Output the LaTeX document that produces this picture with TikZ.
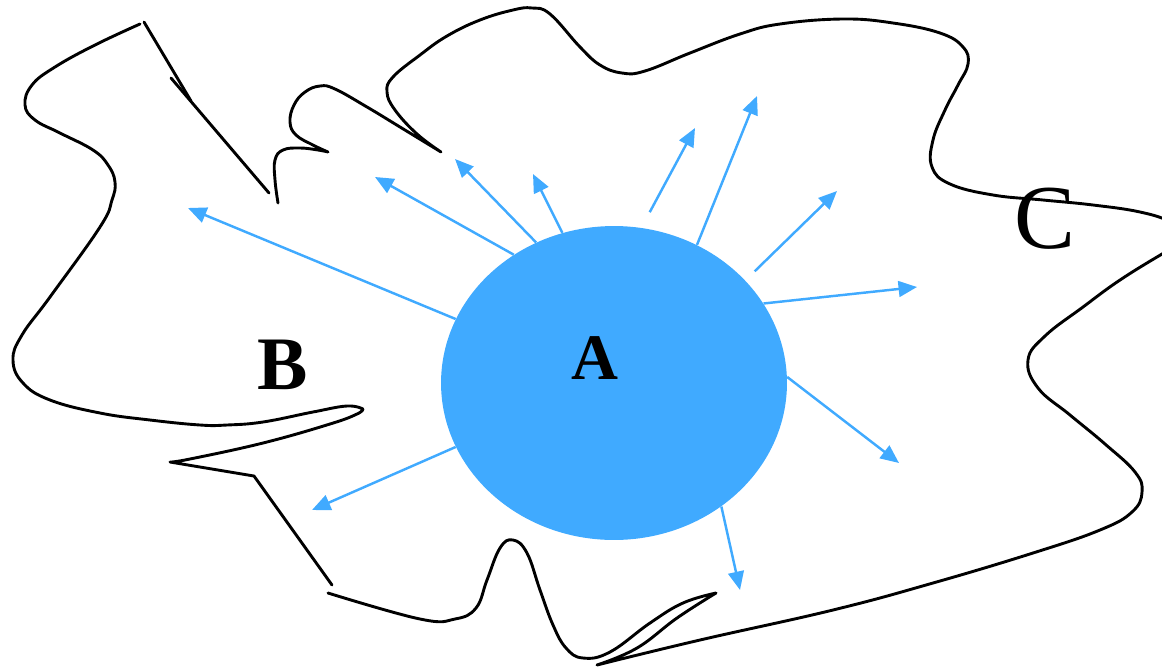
\documentclass[tikz,border=0pt]{standalone}
\usepackage{fontspec}
\setmainfont{Liberation Serif}
\usetikzlibrary{arrows.meta, shapes.geometric}
\definecolor{skyblue}{RGB}{64,170,255}
\tikzset{
  blob/.style={ellipse, fill=skyblue, draw=none, inner sep=0pt, minimum width=6.92cm, minimum height=6.28cm},
  outline/.style={draw=black, line width=1.65pt, line join=round, line cap=round},
  ray/.style={-{Triangle[length=10.5pt, width=9pt]}, line width=1.4pt, draw=skyblue},
  letter/.style={inner sep=0pt, text=black}
}
\begin{document}
\begin{tikzpicture}[x=0.02cm, y=-0.02cm]
\useasboundingbox (0,0) rectangle (1162,667);

% outer border, region C
\draw[outline] plot[smooth, tension=0.7] coordinates {(278,203) (275,180) (275,160) (283,150) (300,148) (318,150) (328,152)}
  -- plot[smooth, tension=0.7] coordinates {(328,152) (313,145) (296,135) (290,122) (294,105) (305,92) (320,86) (335,89) (367,107) (400,127) (441,152)}
  -- plot[smooth, tension=0.7] coordinates {(441,152) (417,134) (395,110) (387,92) (393,77) (420,55) (447,36) (480,20) (513,10) (532,8) (550,14) (580,47) (600,65) (622,73) (645,71) (690,53) (740,34) (780,24) (843,19) (893,23) (940,33) (963,47) (968,64) (958,85) (945,110) (933,140) (932,167) (950,184) (993,195) (1043,200) (1093,205) (1140,212) (1170,222) (1182,236) (1170,250) (1162,254) (1120,280) (1083,307) (1045,336) (1028,360) (1038,388) (1070,415) (1105,444) (1135,472) (1142,492) (1132,512) (1100,530) (1033,553) (933,583) (833,610) (700,640) (597,665)}
  -- plot[smooth, tension=0.7] coordinates {(597,665) (637,648) (677,618) (716,593)}
  -- plot[smooth, tension=0.7] coordinates {(716,593) (683,603) (650,623) (610,652) (583,658) (566,648) (553,625) (540,590) (527,553) (513,540) (500,548) (487,580) (476,608) (455,619) (420,619) (328,593)};

% inner border, region B
\draw[outline] (332,585) -- (254,476) -- (170,462)
  -- plot[smooth, tension=0.7] coordinates {(170,462) (190,459) (263,443) (330,424) (357,414) (363,409)}
  -- plot[smooth, tension=0.7] coordinates {(363,409) (347,406) (313,412) (263,422) (227,425) (200,425) (150,420) (100,413) (50,400) (23,383) (13,360) (22,335) (50,297) (100,227) (112,200) (115,182) (108,165) (93,150) (60,133) (35,120) (25,105) (32,85) (55,67) (95,45) (140,24)};
\draw[outline] (144,22) -- (191,101);
\draw[outline] (171,78) -- (269,193);

\node[blob] (A) at (614,383) {};

\foreach \i/\ang/\gap/\tx/\ty in {1/158/0/188/208, 2/128/0/375/177, 3/119/0/455/159, 4/109/0/533/174, 5/80/10/695/128, 6/59/0/757/96, 7/38/7.4/837/191, 8/28/0/917/287, 9/2/0/899/463, 10/311/0/740/590, 11/202/0/312/510}{
  \coordinate (tip\i) at (\tx,\ty);
  \draw[ray, shorten <=\gap pt] (A.\ang) -- (tip\i);
}

\node[letter, font=\bfseries\fontsize{37}{37}\selectfont] (labA) at (595,358) {A};
\node[letter, font=\bfseries\fontsize{43}{43}\selectfont] (labB) at (283,365) {B};
\node[letter, font=\fontsize{52}{52}\selectfont] (labC) at (1045,219) {C};

\end{tikzpicture}
\end{document}
